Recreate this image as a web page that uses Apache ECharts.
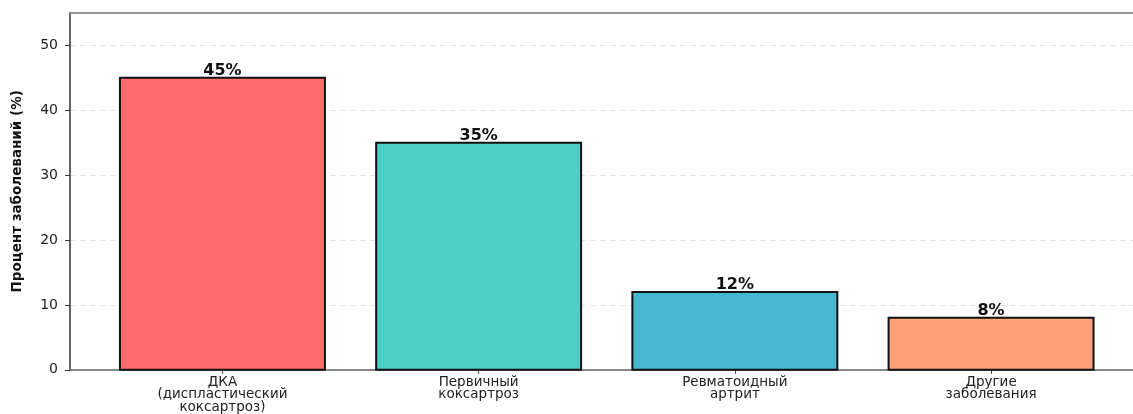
<!DOCTYPE html>
<html>
<head>
<meta charset="utf-8">
<script src="https://cdn.jsdelivr.net/npm/echarts@6/dist/echarts.min.js"></script>
<style>html,body{margin:0;padding:0;background:#fff;overflow:hidden}#c{width:1133px;height:414px}</style>
</head>
<body>
<div id="c"></div>
<script>
const categories = ['ДКА\n(диспластический\nкоксартроз)', 'Первичный\nкоксартроз', 'Ревматоидный\nартрит', 'Другие\nзаболевания'];
const values = [45, 35, 12, 8];
const colors = ['#FF6B6B', '#4ECDC4', '#45B7D1', '#FFA07A'];
const yTicks = [0, 10, 20, 30, 40, 50];
const xPositions = [0, 1, 2, 3];

const chart = echarts.init(document.getElementById('c'), null, {renderer: 'canvas'});
const data = values.map((v, i) => [xPositions[i], v]);

chart.setOption({
  animation: false,
  backgroundColor: '#fff',
  grid: {left: 70, right: 0, top: 13, bottom: 43, show: false},
  xAxis: [{
    type: 'value', min: -0.595, max: 3.554,
    splitLine: {show: false},
    axisLine: {show: true, onZero: false, lineStyle: {color: '#666', width: 1.5}},
    axisTick: {show: true, customValues: xPositions, length: 4, lineStyle: {color: '#333'}},
    axisLabel: {customValues: xPositions, formatter: v => categories[Math.round(v)], fontFamily: 'DejaVu Sans', fontSize: 13.5, lineHeight: 12.5, color: '#222', margin: 6}
  }, {
    type: 'value', position: 'top', min: -0.595, max: 3.554,
    splitLine: {show: false}, axisTick: {show: false}, axisLabel: {show: false},
    axisLine: {show: true, onZero: false, lineStyle: {color: '#777', width: 1.5}}
  }],
  yAxis: {
    type: 'value', min: 0, max: 55, interval: 10,
    name: 'Процент заболеваний (%)', nameLocation: 'middle', nameGap: 46,
    nameTextStyle: {fontFamily: 'DejaVu Sans', fontWeight: 'bold', fontSize: 13.5, color: '#111'},
    axisLine: {show: true, onZero: false, lineStyle: {color: '#333', width: 1.5}},
    axisTick: {show: true, customValues: yTicks, length: 5, lineStyle: {color: '#333'}},
    axisLabel: {customValues: yTicks, fontFamily: 'DejaVu Sans', fontSize: 14, color: '#222', margin: 12},
    splitLine: {show: true, lineStyle: {color: '#e6e6e6', type: [6, 4], width: 1}}
  },
  series: [{
    type: 'custom',
    xAxisIndex: 0,
    data: data,
    encode: {x: 0, y: 1},
    renderItem: function (params, api) {
      const i = api.value(0), v = api.value(1);
      const p0 = api.coord([i - 0.4, v]);
      const p1 = api.coord([i + 0.4, 0]);
      return {
        type: 'group',
        children: [
          {type: 'rect', shape: {x: p0[0], y: p0[1], width: p1[0] - p0[0], height: p1[1] - p0[1]},
           style: {fill: colors[params.dataIndex], stroke: '#111', lineWidth: 2}},
          {type: 'text', style: {text: v + '%', x: (p0[0] + p1[0]) / 2, y: p0[1] + 1,
            align: 'center', verticalAlign: 'bottom', font: 'bold 16px "DejaVu Sans"', fill: '#111'}}
        ]
      };
    }
  }]
});
</script>
</body>
</html>
